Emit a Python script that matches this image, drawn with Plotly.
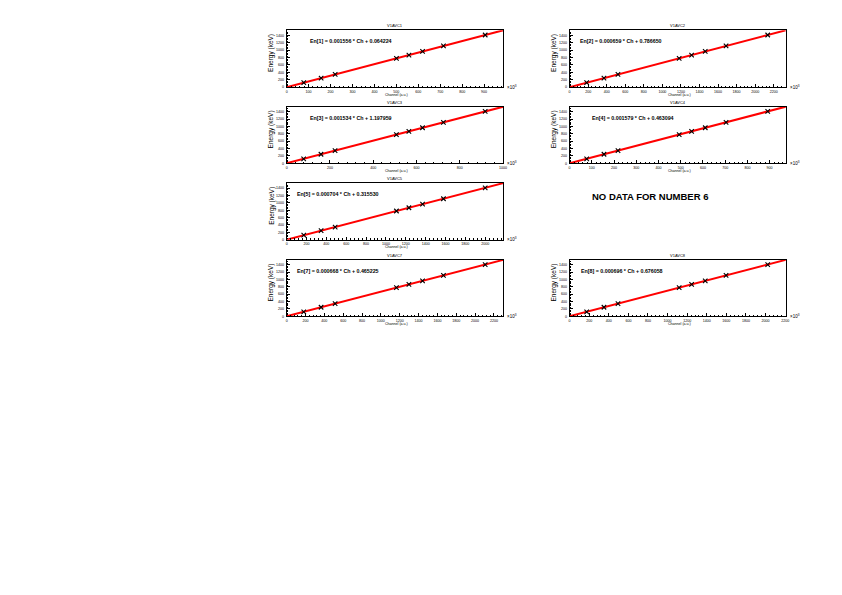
import plotly.graph_objects as go

# ---- data ----
energies_kev = [121.78, 244.70, 344.28, 778.90, 867.38, 964.08, 1112.08, 1408.01]
panel_numbers = [1, 2, 3, 4, 5, 7, 8]
panel_titles = ["V1AVC1", "V1AVC2", "V1AVC3", "V1AVC4", "V1AVC5", "V1AVC7", "V1AVC8"]
# channel values in units of 10^3
channels_1 = [78.2, 157.2, 221.2, 500.5, 557.4, 619.5, 714.7, 904.9]
channels_2 = [183.6, 370.1, 521.2, 1180.7, 1315.0, 1461.8, 1686.3, 2135.4]
channels_3 = [78.6, 158.7, 223.7, 507.0, 564.7, 627.7, 724.2, 917.1]
channels_4 = [76.8, 154.7, 217.7, 493.0, 549.0, 610.3, 704.0, 891.4]
channels_5 = [172.5, 347.1, 488.6, 1105.9, 1231.6, 1369.0, 1579.2, 1999.6]
channels_7 = [181.6, 365.6, 514.7, 1165.3, 1297.8, 1442.5, 1664.1, 2107.1]
channels_8 = [174.0, 350.6, 493.7, 1118.1, 1245.3, 1384.2, 1596.8, 2022.0]
fit_slopes = [0.001556, 0.000659, 0.001534, 0.001579, 0.000704, 0.000668, 0.000696]
fit_offsets = [0.064224, 0.786650, 1.197959, 0.463094, 0.315530, 0.465225, 0.676058]
x_tick_steps = [100, 200, 200, 100, 200, 200, 200]
y_tick_values = [0, 200, 400, 600, 800, 1000, 1200, 1400]
missing_label = "NO DATA FOR NUMBER 6"

channels = [channels_1, channels_2, channels_3, channels_4, channels_5, channels_7, channels_8]

OFF = 8  # page body margin
W, H = 842 - OFF, 595 - OFF
FONT = "Liberation Sans, Arial, sans-serif"

# grid slots (pixels in the page): col 0/1, row 0..3
col_lr = [(287.3, 505.3), (572.0, 789.5)]
row_tb = [(30.3, 87.5), (107.0, 163.8), (183.7, 240.5), (260.7, 317.3)]
slots = {1: (0, 0), 2: (1, 0), 3: (0, 1), 4: (1, 1), 5: (0, 2), 6: (1, 2), 7: (0, 3), 8: (1, 3)}
text_pos = {1: (309, 41), 2: (580, 41), 3: (309, 118), 4: (593, 118),
            5: (296, 195), 7: (296, 272), 8: (581, 272)}

def px(x):
    return (x - OFF) / W

def py(y):
    return 1 - (y - OFF) / H

fig = go.Figure()
annotations = []

for i, n in enumerate(panel_numbers):
    ch = channels[i]
    a, b = fit_slopes[i], fit_offsets[i]
    xmin, xmax = min(ch), max(ch)
    ymin, ymax = min(energies_kev), max(energies_kev)
    x_hi = xmax + 0.1 * (xmax - xmin)
    y_hi = ymax + 0.1 * (ymax - ymin)
    c, r = slots[n]
    l, rr = col_lr[c]
    t, bt = row_tb[r]
    k = i + 1
    xa = "x" if k == 1 else f"x{k}"
    ya = "y" if k == 1 else f"y{k}"
    axis_common = dict(showgrid=False, zeroline=False, showline=True, linecolor="black",
                       linewidth=1, mirror=True, ticks="inside", ticklen=3, tickwidth=0.6,
                       tickcolor="black", tickfont=dict(size=3.6, family=FONT, color="black"))
    fig.update_layout(**{
        ("xaxis" if k == 1 else f"xaxis{k}"): dict(
            domain=[px(l), px(rr)], anchor=ya, range=[0, x_hi],
            tick0=0, dtick=x_tick_steps[i],
            minor=dict(ticks="inside", ticklen=1.5, tickwidth=0.5, tickcolor="black",
                       dtick=x_tick_steps[i] / 5),
            ticklabelstandoff=0, **axis_common),
        ("yaxis" if k == 1 else f"yaxis{k}"): dict(
            domain=[py(bt), py(t)], anchor=xa, range=[0, y_hi],
            tickvals=y_tick_values,
            minor=dict(ticks="inside", ticklen=1.5, tickwidth=0.5, tickcolor="black", dtick=40),
            ticklabelstandoff=1, **axis_common),
    })
    # fit line drawn through the full x range
    fx = [0, x_hi]
    fy = [a * v * 1000 + b for v in fx]
    fig.add_trace(go.Scatter(x=fx, y=fy, mode="lines", line=dict(color="red", width=2),
                             xaxis=xa, yaxis=ya, showlegend=False, hoverinfo="skip"))
    fig.add_trace(go.Scatter(x=ch, y=energies_kev, mode="markers",
                             marker=dict(symbol="x-thin", size=4.5, color="black",
                                         line=dict(color="black", width=1.1)),
                             xaxis=xa, yaxis=ya, showlegend=False))
    cx = (l + rr) / 2
    annotations += [
        dict(text=panel_titles[i], x=px(cx), y=py(t - 4.5), xref="paper", yref="paper",
             xanchor="center", yanchor="middle",
             showarrow=False, font=dict(size=4, family=FONT, color="black")),
        dict(text=f"En[{n}] = {a:.6f} * Ch + {b:.6f}", x=px(text_pos[n][0]), y=py(text_pos[n][1]),
             xref="paper", yref="paper", xanchor="left", yanchor="middle", showarrow=False,
             font=dict(size=5.3, family=FONT, color="black", weight="bold")),
        dict(text="Energy (keV)", x=px(l - 15.5), y=py(t + 1.5), xref="paper", yref="paper",
             textangle=-90, xanchor="center", yanchor="top", showarrow=False,
             font=dict(size=6.5, family=FONT, color="black")),
        dict(text="Channel (a.u.)", x=px(cx + 2), y=py(bt + 7.3), xref="paper", yref="paper",
             xanchor="center", yanchor="middle",
             showarrow=False, font=dict(size=3.6, family=FONT, color="black")),
        dict(text="×10<sup>3</sup>", x=px(rr + 2), y=py(bt - 0.5), xref="paper", yref="paper",
             xanchor="left", yanchor="middle", showarrow=False,
             font=dict(size=4.5, family=FONT, color="black")),
    ]

annotations.append(dict(text=f"<b>{missing_label}</b>", x=px(653), y=py(197),
                        xref="paper", yref="paper", xanchor="center", yanchor="middle",
                        showarrow=False, font=dict(size=9.5, family=FONT, color="black")))

fig.update_layout(width=W, height=H, margin=dict(l=0, r=0, t=0, b=0),
                  paper_bgcolor="white", plot_bgcolor="white", annotations=annotations,
                  showlegend=False)

fig.write_html("out.html")
